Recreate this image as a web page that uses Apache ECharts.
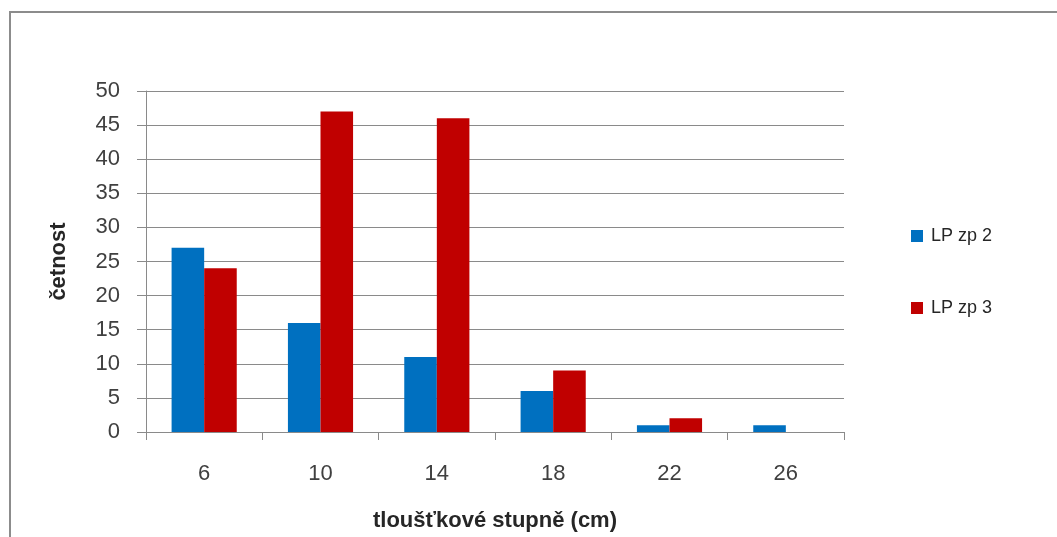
<!DOCTYPE html>
<html>
<head>
<meta charset="utf-8">
<script src="https://cdn.jsdelivr.net/npm/echarts@6/dist/echarts.min.js"></script>
<style>
  html, body { margin: 0; padding: 0; background: #fff; }
  #chart { width: 1057px; height: 537px; }
</style>
</head>
<body>
<div id="chart"></div>
<script>
// Diameter classes (cm) and frequency counts for the two plots
const categories = ['6', '10', '14', '18', '22', '26'];
const seriesNames = ['LP zp 2', 'LP zp 3'];
const zp2 = [27, 16, 11, 6, 1, 1];
const zp3 = [24, 47, 46, 9, 2, 0];
const yTicks = { min: 0, max: 50, interval: 5 };

const font = '"Liberation Sans", "DejaVu Sans", sans-serif';
const textColor = '#404040';
const titleColor = '#262626';
const gridColor = '#8a8a8a';

const chart = echarts.init(document.getElementById('chart'), null, { renderer: 'canvas' });
chart.setOption({
  backgroundColor: '#ffffff',
  animation: false,
  textStyle: { fontFamily: font },
  graphic: [{
    type: 'rect',
    shape: { x: 10, y: 12, width: 1100, height: 600 },
    style: { fill: 'none', stroke: '#8c8c8c', lineWidth: 2 },
    silent: true
  }],
  grid: { left: 146, right: 213, top: 91, bottom: 105, containLabel: false },
  legend: {
    orient: 'vertical',
    left: 906,
    top: 222,
    itemGap: 54,
    itemWidth: 12,
    itemHeight: 12,
    icon: 'rect',
    textStyle: { fontFamily: font, fontSize: 18, lineHeight: 18, color: titleColor, padding: [0, 0, 0, 3] },
    data: seriesNames
  },
  xAxis: {
    type: 'category',
    data: categories,
    name: 'tloušťkové stupně (cm)',
    nameLocation: 'middle',
    nameGap: 78,
    nameTextStyle: { fontFamily: font, fontSize: 22, fontWeight: 'bold', color: titleColor },
    axisLine: { lineStyle: { color: gridColor, width: 1 } },
    axisTick: { show: true, length: 8, lineStyle: { color: gridColor } },
    axisLabel: { fontFamily: font, fontSize: 22, color: textColor, margin: 31 },
    splitLine: { show: false }
  },
  yAxis: {
    type: 'value',
    min: yTicks.min,
    max: yTicks.max,
    interval: yTicks.interval,
    name: 'četnost',
    nameLocation: 'middle',
    nameRotate: 90,
    nameGap: 76,
    nameTextStyle: { fontFamily: font, fontSize: 22, fontWeight: 'bold', color: titleColor },
    axisLine: { show: true, lineStyle: { color: gridColor, width: 1 } },
    axisTick: { show: true, length: 9, lineStyle: { color: gridColor } },
    axisLabel: { fontFamily: font, fontSize: 22, color: textColor, margin: 26 },
    splitLine: { show: true, lineStyle: { color: gridColor, width: 1 } }
  },
  series: [{
    name: seriesNames[0],
    type: 'bar',
    data: zp2,
    barGap: '0%',
    barCategoryGap: '44%',
    itemStyle: { color: '#0070C0' }
  }, {
    name: seriesNames[1],
    type: 'bar',
    data: zp3,
    barGap: '0%',
    barCategoryGap: '44%',
    itemStyle: { color: '#C00000' }
  }]
});
</script>
</body>
</html>
